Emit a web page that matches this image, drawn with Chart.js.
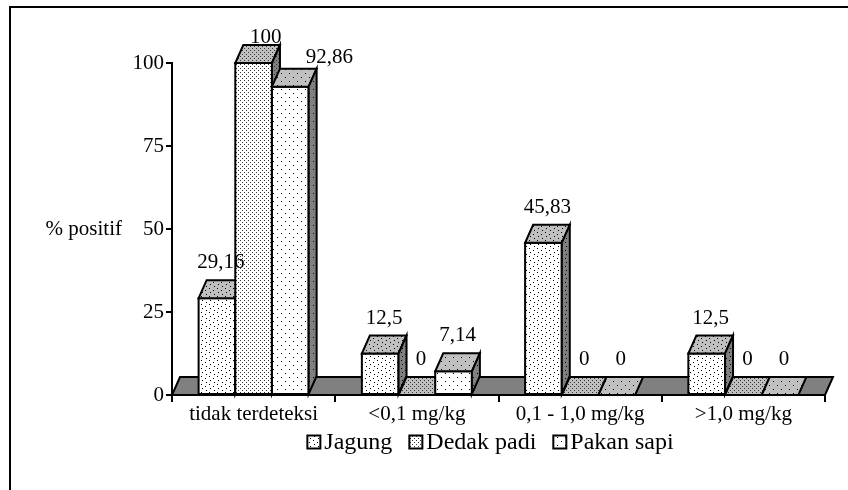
<!DOCTYPE html>
<html>
<head>
<meta charset="utf-8">
<script src="https://cdn.jsdelivr.net/npm/chart.js@4"></script>
<style>
body{margin:0;overflow:hidden;background:#fff}
#frame{position:absolute;left:9px;top:6px;width:900px;height:600px;border-top:2px solid #000;border-left:2px solid #000}
#c{position:absolute;left:0;top:0}
</style>
</head>
<body>
<div id="frame"></div>
<canvas id="c" width="848" height="490"></canvas>
<script>
const categories=['tidak terdeteksi','<0,1 mg/kg','0,1 - 1,0 mg/kg','>1,0 mg/kg']
const jagung=[29.16,12.5,45.83,12.5]
const dedakPadi=[100,0,0,0]
const pakanSapi=[92.86,7.14,0,0]
const seriesNames=['Jagung','Dedak padi','Pakan sapi']
const yTicks=[0,25,50,75,100]

const FONT='"Liberation Serif", "Times New Roman", serif'
Chart.defaults.font.family=FONT
Chart.defaults.font.size=21
Chart.defaults.color='#000'

// 3d depth offset
const dx=8, dy=-18
// hand moved labels, like in the original (category-dataset)
const labelNudge={'0-1':[8,10],'0-2':[35,6]}

function pat(bg,dots,size,dotColor){
  const c=document.createElement('canvas')
  c.width=c.height=size
  const x=c.getContext('2d')
  x.fillStyle=bg;x.fillRect(0,0,size,size)
  x.fillStyle=dotColor||'#000'
  dots.forEach(d=>x.fillRect(d[0],d[1],1,1))
  return x.createPattern(c,'repeat')
}
function faces(dots,size,dotColor){
  return {front:pat('#fff',dots,size,dotColor),top:pat('#c0c0c0',dots,size,dotColor),side:pat('#808080',dots,size,dotColor)}
}
const pats=[
  faces([[1,0],[5,2],[2,4],[6,6]],8,'#000'),
  faces([[0,0],[2,2]],4,'#333'),
  faces([[1,1],[5,5]],8,'#000')
]

function poly(ctx,pts,fill){
  ctx.beginPath()
  ctx.moveTo(pts[0][0],pts[0][1])
  for(let k=1;k<pts.length;k++) ctx.lineTo(pts[k][0],pts[k][1])
  ctx.closePath()
  ctx.fillStyle=fill;ctx.fill();ctx.stroke()
}

const threeD={
  id:'threeD',
  beforeDatasetsDraw(chart){
    const {ctx,chartArea:a}=chart
    const b=chart.scales.y.getPixelForValue(0)
    ctx.save()
    ctx.lineWidth=2;ctx.strokeStyle='#000'
    poly(ctx,[[a.left,b],[a.right,b],[a.right+dx,b+dy],[a.left+dx,b+dy]],'#808080')
    ctx.restore()
  },
  afterDatasetsDraw(chart){
    const ctx=chart.ctx
    ctx.save()
    ctx.lineWidth=2;ctx.strokeStyle='#000'
    for(let j=0;j<categories.length;j++){
      for(let i=0;i<chart.data.datasets.length;i++){
        const bar=chart.getDatasetMeta(i).data[j]
        const l=bar.x-bar.width/2, r=bar.x+bar.width/2, t=bar.y, b=bar.base
        const p=pats[i]
        if(b-t>0.5){
          ctx.fillStyle=p.front
          ctx.fillRect(l,t,r-l,b-t)
          ctx.strokeRect(l,t,r-l,b-t)
        }
        poly(ctx,[[l,t],[r,t],[r+dx,t+dy],[l+dx,t+dy]],p.top)
        if(b-t>0.5) poly(ctx,[[r,t],[r,b],[r+dx,b+dy],[r+dx,t+dy]],p.side)
      }
    }
    // value labels
    ctx.fillStyle='#000'
    ctx.font='21px '+FONT
    ctx.textAlign='center'
    ctx.textBaseline='alphabetic'
    chart.data.datasets.forEach((ds,i)=>{
      chart.getDatasetMeta(i).data.forEach((bar,j)=>{
        const n=labelNudge[j+'-'+i]||[0,0]
        const txt=String(ds.data[j]).replace('.',',')
        ctx.fillText(txt,bar.x+dx/2+n[0],bar.y+dy-12+n[1])
      })
    })
    ctx.restore()
  },
  afterDraw(chart){
    const ctx=chart.ctx, a=chart.chartArea
    ctx.save()
    ctx.fillStyle='#000'
    ctx.font='21px '+FONT
    ctx.textAlign='right'
    ctx.textBaseline='middle'
    ctx.fillText('% positif',122,chart.scales.y.getPixelForValue(50))

    // legend, under the category labels
    ctx.font='24px '+FONT
    ctx.textAlign='left'
    const box=13, gap=4, sep=17
    const ws=chart.data.datasets.map(d=>ctx.measureText(d.label).width)
    const total=ws.reduce((s,w)=>s+box+gap+w,0)+sep*(ws.length-1)
    let x=(a.left+a.right)/2-8-total/2
    const y=442
    ctx.lineWidth=2;ctx.strokeStyle='#000'
    chart.data.datasets.forEach((d,i)=>{
      ctx.fillStyle=pats[i].front
      ctx.fillRect(x,y-box/2,box,box)
      ctx.strokeRect(x,y-box/2,box,box)
      ctx.fillStyle='#000'
      ctx.fillText(d.label,x+box+gap,y+1)
      x+=box+gap+ws[i]+sep
    })
    ctx.restore()
  }
}

const series=[jagung,dedakPadi,pakanSapi]
new Chart(document.getElementById('c'),{
  type:'bar',
  data:{
    labels:categories,
    datasets:series.map((d,i)=>({
      label:seriesNames[i],
      data:d,
      backgroundColor:pats[i].front,
      borderColor:'#000',
      borderWidth:2,
      categoryPercentage:0.674,
      barPercentage:1
    }))
  },
  options:{
    responsive:false,
    animation:false,
    events:[],
    layout:{padding:{left:0,right:23,top:63,bottom:63.5}},
    plugins:{
      tooltip:{enabled:false},
      legend:{display:false}
    },
    scales:{
      x:{
        grid:{display:true,drawOnChartArea:false,offset:true,color:'#000',lineWidth:2,tickLength:7},
        border:{display:true,color:'#000',width:2},
        ticks:{color:'#000',padding:0,maxRotation:0,autoSkip:false},
        afterFit(s){s.height=31.5}
      },
      y:{
        min:0,max:100,
        afterBuildTicks(s){s.ticks=yTicks.map(v=>({value:v}))},
        grid:{drawOnChartArea:false,color:'#000',lineWidth:2,tickLength:6},
        border:{color:'#000',width:2},
        ticks:{color:'#000',padding:2},
        afterFit(s){s.width=172}
      }
    }
  },
  plugins:[threeD]
})
</script>
</body>
</html>
